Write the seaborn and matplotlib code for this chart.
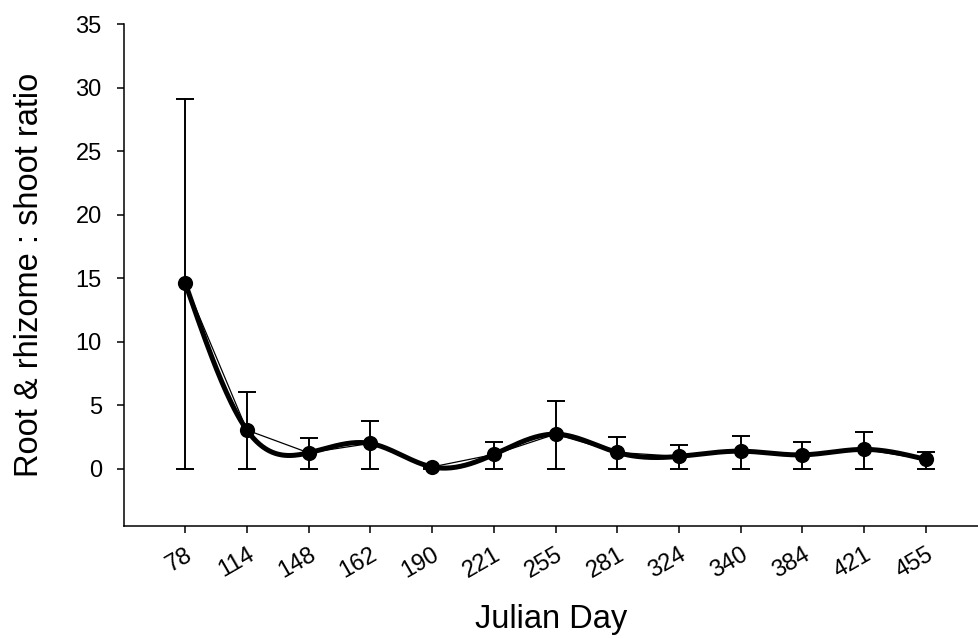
"""
Root & rhizome : shoot ratio over Julian day, mean with upper error bars.
"""
import numpy as np
import pandas as pd
import matplotlib
matplotlib.use("Agg")
import matplotlib.pyplot as plt
import seaborn as sns

# values
julian_days = ["78", "114", "148", "162", "190", "221", "255",
               "281", "324", "340", "384", "421", "455"]
ratio_mean = [14.63, 3.05, 1.26, 2.0, 0.15, 1.13, 2.73,
              1.29, 0.98, 1.39, 1.1, 1.53, 0.74]
ratio_upper = [29.13, 6.02, 2.4, 3.78, 0.15, 2.13, 5.33,
               2.52, 1.87, 2.58, 2.13, 2.92, 1.32]


def natural_spline(x, y, n=40):
    """Smooth curve through the points (natural cubic spline), for drawing only."""
    x = np.asarray(x, float)
    y = np.asarray(y, float)
    k = len(x)
    h = np.diff(x)
    A = np.zeros((k, k))
    b = np.zeros(k)
    A[0, 0] = A[-1, -1] = 1.0
    for i in range(1, k - 1):
        A[i, i - 1] = h[i - 1]
        A[i, i] = 2 * (h[i - 1] + h[i])
        A[i, i + 1] = h[i]
        b[i] = 6 * ((y[i + 1] - y[i]) / h[i] - (y[i] - y[i - 1]) / h[i - 1])
    m = np.linalg.solve(A, b)
    xs, ys = [], []
    for i in range(k - 1):
        t = np.linspace(x[i], x[i + 1], n)
        a = x[i + 1] - t
        c = t - x[i]
        s = (m[i] * a ** 3 + m[i + 1] * c ** 3) / (6 * h[i]) \
            + (y[i] / h[i] - m[i] * h[i] / 6) * a \
            + (y[i + 1] / h[i] - m[i + 1] * h[i] / 6) * c
        xs.append(t)
        ys.append(s)
    return np.concatenate(xs), np.concatenate(ys)


df = pd.DataFrame({"day": julian_days, "mean": ratio_mean, "upper": ratio_upper})
df["pos"] = np.arange(len(df))

sns.set_theme(style="ticks")
plt.rcParams["font.family"] = ["Liberation Sans", "DejaVu Sans"]

fig = plt.figure(figsize=(9.79, 6.39), dpi=100)
ax = fig.add_axes([0.1267, 0.177, 0.8733, 0.7854])

# error bars: lower end stops at zero
yerr = np.vstack([df["mean"].values, (df["upper"] - df["mean"]).values])
ax.errorbar(df["pos"], df["mean"], yerr=yerr, fmt="none", ecolor="black",
            elinewidth=1.4, capsize=6.8, capthick=1.4, zorder=2)

# thin straight connecting line
sns.lineplot(data=df, x="pos", y="mean", color="black", linewidth=0.9,
             ax=ax, zorder=3)

# thick smoothed curve
sx, sy = natural_spline(df["pos"], df["mean"])
ax.plot(sx, sy, color="black", linewidth=3.6, solid_capstyle="round", zorder=4)

sns.scatterplot(data=df, x="pos", y="mean", color="black", s=120,
                edgecolor="black", linewidth=0, ax=ax, zorder=5)

ax.set_xlim(-0.99, 12.86)
ax.set_ylim(-4.49, 35)
ax.set_yticks(range(0, 36, 5))
ax.set_xticks(df["pos"])
ax.set_xticklabels(julian_days, rotation=30, ha="right", rotation_mode="anchor")
ax.tick_params(axis="both", direction="out", length=5, width=1.1,
               color="black", labelsize=17, labelcolor="black")
ax.tick_params(axis="x", pad=8)
ax.tick_params(axis="y", pad=11)

sns.despine(ax=ax)
for side in ["left", "bottom"]:
    ax.spines[side].set_color("black")
    ax.spines[side].set_linewidth(1.1)
ax.spines["left"].set_bounds(-4.49, 35)

ax.set_xlabel("Julian Day", fontsize=23.5, labelpad=15, color="black")
ax.set_ylabel("Root & rhizome : shoot ratio", fontsize=23.5, labelpad=22,
              color="black")

fig.savefig("out.png", dpi=100)
